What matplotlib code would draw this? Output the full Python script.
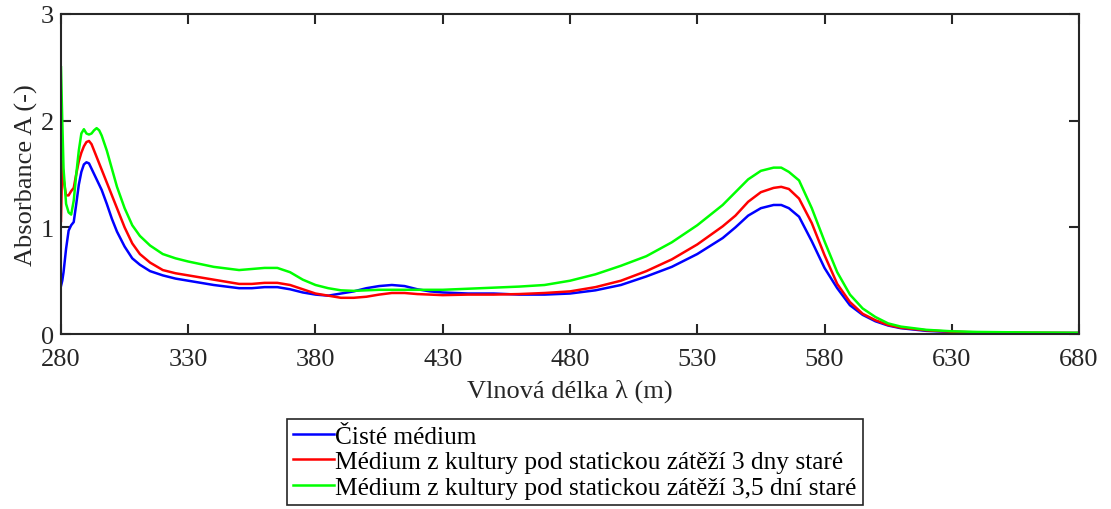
import matplotlib
matplotlib.use('Agg')
import matplotlib.pyplot as plt

plt.rcParams['font.family'] = ['Liberation Serif', 'DejaVu Serif']

wavelength = [280, 280.5, 281, 282, 283, 284, 285, 286, 287, 288, 289, 290, 291, 292, 293, 294, 295, 296,
              298, 300, 302, 305, 308, 311, 315, 320, 325, 330, 340, 350, 355, 360, 365, 370, 375, 380,
              385, 390, 395, 400, 405, 410, 415, 420, 425, 430, 440, 450, 460, 470, 480, 490, 500, 510,
              520, 530, 540, 545, 550, 555, 560, 563, 566, 570, 575, 580, 585, 590, 595, 600, 605, 610,
              620, 630, 640, 660, 680]

ciste = [0.45, 0.50, 0.58, 0.80, 0.97, 1.02, 1.05, 1.22, 1.40, 1.52, 1.59, 1.61, 1.60, 1.55, 1.50, 1.45, 1.40, 1.35,
         1.22, 1.08, 0.96, 0.82, 0.71, 0.65, 0.59, 0.55, 0.52, 0.50, 0.46, 0.43, 0.43, 0.44, 0.44, 0.42, 0.39, 0.37,
         0.36, 0.38, 0.40, 0.43, 0.45, 0.46, 0.45, 0.42, 0.40, 0.39, 0.38, 0.38, 0.37, 0.37, 0.38, 0.41, 0.46, 0.54,
         0.63, 0.75, 0.90, 1.00, 1.11, 1.18, 1.21, 1.21, 1.18, 1.10, 0.87, 0.62, 0.43, 0.27, 0.18, 0.12, 0.08, 0.055,
         0.03, 0.02, 0.015, 0.01, 0.01]

dny3 = [1.06, 1.62, 1.45, 1.30, 1.30, 1.34, 1.37, 1.50, 1.62, 1.70, 1.76, 1.80, 1.81, 1.78, 1.72, 1.66, 1.60, 1.54,
        1.42, 1.30, 1.18, 1.00, 0.85, 0.75, 0.67, 0.60, 0.57, 0.55, 0.51, 0.47, 0.47, 0.48, 0.48, 0.46, 0.42, 0.38,
        0.36, 0.34, 0.34, 0.35, 0.37, 0.385, 0.385, 0.375, 0.37, 0.365, 0.37, 0.37, 0.375, 0.385, 0.40, 0.44, 0.50, 0.59,
        0.70, 0.84, 1.01, 1.11, 1.24, 1.33, 1.37, 1.38, 1.36, 1.27, 1.04, 0.74, 0.47, 0.30, 0.19, 0.13, 0.085, 0.06,
        0.035, 0.022, 0.016, 0.012, 0.01]

dni35 = [2.50, 2.00, 1.55, 1.22, 1.14, 1.12, 1.25, 1.50, 1.72, 1.88, 1.92, 1.88, 1.87, 1.88, 1.91, 1.93, 1.91, 1.86,
         1.72, 1.55, 1.38, 1.18, 1.02, 0.92, 0.83, 0.75, 0.71, 0.68, 0.63, 0.60, 0.61, 0.62, 0.62, 0.58, 0.51, 0.46,
         0.43, 0.41, 0.405, 0.41, 0.415, 0.415, 0.415, 0.415, 0.415, 0.415, 0.425, 0.435, 0.445, 0.46, 0.50, 0.56, 0.64, 0.73,
         0.86, 1.02, 1.21, 1.33, 1.45, 1.53, 1.56, 1.56, 1.52, 1.44, 1.18, 0.87, 0.58, 0.37, 0.24, 0.16, 0.10, 0.07,
         0.04, 0.026, 0.02, 0.015, 0.012]

labels = ['Čisté médium',
          'Médium z kultury pod statickou zátěží 3 dny staré',
          'Médium z kultury pod statickou zátěží 3,5 dní staré']
colors = ['#0000ff', '#ff0000', '#00ff00']

fig = plt.figure(figsize=(11.11, 5.10), dpi=100)
ax = fig.add_axes([0.0549, 0.343, 0.9163, 0.6276])

for series, label, color in zip([ciste, dny3, dni35], labels, colors):
    ax.plot(wavelength, series, color=color, lw=1.8, label=label)

ax.set_xlim(280, 680)
ax.set_ylim(0, 3)
ax.set_xticks(range(280, 681, 50))
ax.set_yticks([0, 1, 2, 3])
ax.tick_params(direction='in', top=True, right=True, length=7, width=1.5,
               labelsize=19, colors='#262626')
ax.tick_params(axis='x', pad=10)
ax.tick_params(axis='y', pad=5)
for sp in ax.spines.values():
    sp.set_color('#262626')
    sp.set_linewidth(1.5)

ax.set_xlabel('Vlnová délka λ (m)', fontsize=19, color='#262626', labelpad=6)
ax.set_ylabel('Absorbance A (-)', fontsize=19, color='#262626', labelpad=2)

leg = fig.legend(loc='upper left', bbox_to_anchor=(0.258, 0.177), fontsize=18.3,
                 handlelength=1.6, handletextpad=0.05, labelspacing=0.1,
                 borderpad=0.25, borderaxespad=0, fancybox=False, framealpha=1)
leg.get_frame().set_edgecolor('#262626')
leg.get_frame().set_linewidth(1.2)

fig.savefig('out.png', dpi=100)
plt.close()
